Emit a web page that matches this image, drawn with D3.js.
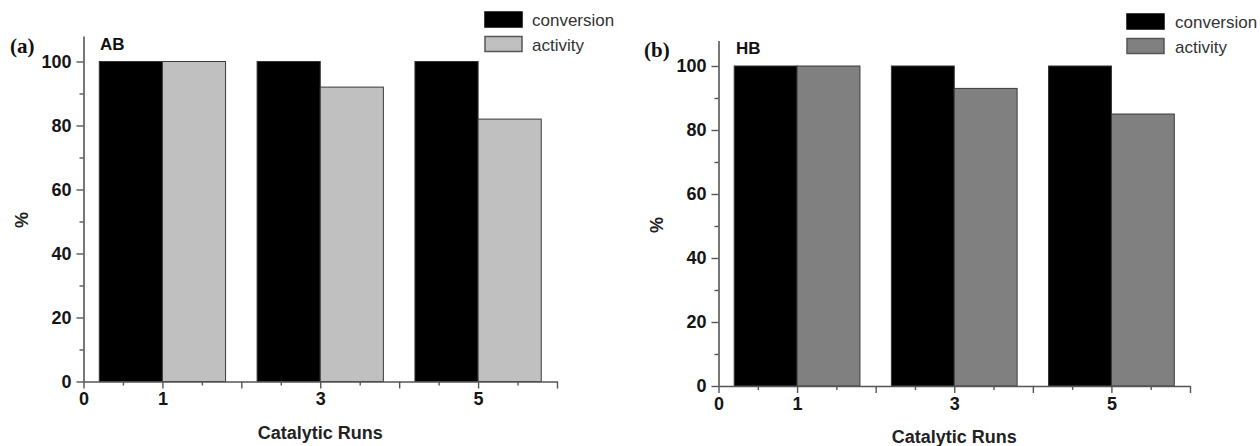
<!DOCTYPE html>
<html>
<head>
<meta charset="utf-8">
<script src="https://cdn.jsdelivr.net/npm/d3@7"></script>
<style>
  html, body { margin: 0; padding: 0; background: #fff; }
  svg { display: block; }
</style>
</head>
<body>
<svg id="chart" width="1260" height="446"></svg>
<script>
// ---- data ----
const runs = [1, 3, 5];
const seriesNames = ["conversion", "activity"];
const conversionAB = [100, 100, 100];
const activityAB = [100, 92, 82];
const conversionHB = [100, 100, 100];
const activityHB = [100, 93, 85];
const xTickLabels = [0, 1, 3, 5];
const yTickLabels = [0, 20, 40, 60, 80, 100];
const xTitle = "Catalytic Runs";
const yTitle = "%";

const svg = d3.select("#chart");
const sans = "'Liberation Sans', Arial, sans-serif";
const serif = "'Liberation Serif', 'Times New Roman', serif";

const panels = [
  {
    tag: "(a)", name: "AB", conv: conversionAB, act: activityAB, actColor: "#c0c0c0",
    x0: 83.5, x6: 557, y0: 381.5, y100: 61.5,
    tagPos: [10, 53], namePos: [100, 50],
    legX: 485, legY: 12, legTextX: 532,
    yTitlePos: [22, 220], xTitleY: 439
  },
  {
    tag: "(b)", name: "HB", conv: conversionHB, act: activityHB, actColor: "#808080",
    x0: 718.5, x6: 1190, y0: 386, y100: 66,
    tagPos: [644, 57], namePos: [736, 54],
    legX: 1127, legY: 14, legTextX: 1175,
    yTitlePos: [657, 225], xTitleY: 443
  }
];

const barW = 0.8;

panels.forEach(p => {
  const g = svg.append("g");
  const x = d3.scaleLinear().domain([0, 6]).range([p.x0, p.x6]);
  const k = (p.y0 - p.y100) / 100;
  const y = d3.scaleLinear().domain([0, 108]).range([p.y0, p.y0 - 108 * k]);

  const rows = runs.map((r, i) => ({ run: r, conv: p.conv[i], act: p.act[i] }));

  // conversion bars (left of run), activity bars (right of run)
  g.selectAll("rect.conv").data(rows).join("rect")
    .attr("class", "conv")
    .attr("x", d => x(d.run - barW)).attr("width", d => x(d.run) - x(d.run - barW))
    .attr("y", d => y(d.conv)).attr("height", d => y(0) - y(d.conv))
    .attr("fill", "#000").attr("stroke", "#333").attr("stroke-width", 1);
  g.selectAll("rect.act").data(rows).join("rect")
    .attr("class", "act")
    .attr("x", d => x(d.run)).attr("width", d => x(d.run + barW) - x(d.run))
    .attr("y", d => y(d.act)).attr("height", d => y(0) - y(d.act))
    .attr("fill", p.actColor).attr("stroke", "#3a3a3a").attr("stroke-width", 1);

  // y axis
  const yAxis = d3.axisLeft(y)
    .tickValues(d3.range(0, 101, 10))
    .tickSize(7).tickSizeOuter(0).tickPadding(5)
    .tickFormat(d => yTickLabels.includes(d) ? d : "");
  const ya = g.append("g").attr("transform", `translate(${p.x0},0)`).call(yAxis);
  ya.selectAll(".tick line").filter(d => !yTickLabels.includes(d)).attr("x2", -4);

  // x axis
  const xAxis = d3.axisBottom(x)
    .tickValues(d3.range(0, 6.01, 0.5))
    .tickSize(7).tickSizeOuter(0).tickPadding(4)
    .tickFormat(d => xTickLabels.includes(d) ? d : "");
  const xa = g.append("g").attr("transform", `translate(0,${p.y0})`).call(xAxis);
  xa.selectAll(".tick line").filter(d => d % 1 !== 0).attr("y2", 4);

  [ya, xa].forEach(a => {
    a.select(".domain").attr("stroke", "#555").attr("stroke-width", 1.6);
    a.selectAll(".tick line").attr("stroke", "#555").attr("stroke-width", 1.4);
    a.selectAll(".tick text")
      .attr("fill", "#151515")
      .style("font-family", sans).style("font-size", "18px").style("font-weight", "bold");
  });

  // titles
  g.append("text").attr("x", x(3)).attr("y", p.xTitleY)
    .attr("text-anchor", "middle").attr("fill", "#222")
    .style("font-family", sans).style("font-size", "18px").style("font-weight", "bold")
    .text(xTitle);
  g.append("text")
    .attr("transform", `translate(${p.yTitlePos[0]},${p.yTitlePos[1]}) rotate(-90)`)
    .attr("text-anchor", "middle").attr("dominant-baseline", "central").attr("fill", "#222")
    .style("font-family", sans).style("font-size", "18px").style("font-weight", "bold")
    .text(yTitle);

  // panel tag and name
  g.append("text").attr("x", p.tagPos[0]).attr("y", p.tagPos[1]).attr("fill", "#111")
    .style("font-family", serif).style("font-size", "21px").style("font-weight", "bold")
    .text(p.tag);
  g.append("text").attr("x", p.namePos[0]).attr("y", p.namePos[1]).attr("fill", "#111")
    .style("font-family", sans).style("font-size", "17px").style("font-weight", "bold")
    .text(p.name);

  // legend
  const legColors = ["#000", p.actColor];
  const legStroke = ["#000", "#555"];
  seriesNames.forEach((s, i) => {
    const yy = p.legY + i * 24.5;
    g.append("rect").attr("x", p.legX).attr("y", yy).attr("width", 37).attr("height", 15)
      .attr("fill", legColors[i]).attr("stroke", legStroke[i]).attr("stroke-width", 1.5);
    g.append("text").attr("x", p.legTextX).attr("y", yy + 14).attr("fill", "#333")
      .style("font-family", sans).style("font-size", "17px")
      .text(s);
  });
});
</script>
</body>
</html>
